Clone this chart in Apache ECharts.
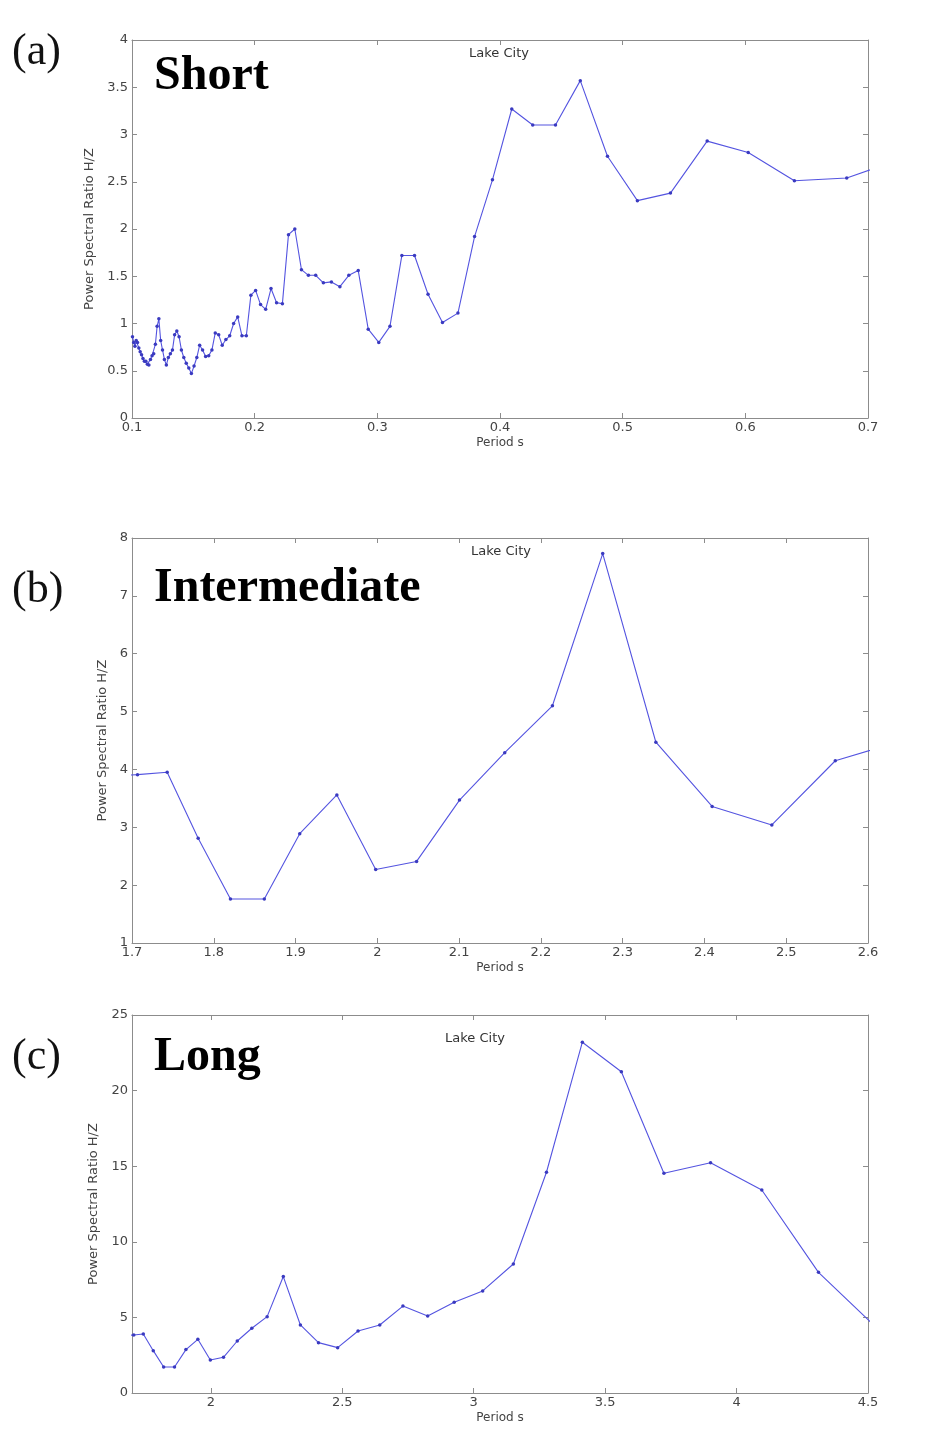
<!DOCTYPE html>
<html>
<head>
<meta charset="utf-8">
<script src="https://cdn.jsdelivr.net/npm/echarts@6/dist/echarts.min.js"></script>
<style>
  html, body { margin: 0; padding: 0; background: #ffffff; }
  #chart { width: 943px; height: 1433px; }
</style>
</head>
<body>
<div id="chart"></div>
<script>
// ---------- DATA ----------
// Panel (a) Short: period (s) and H/Z power spectral ratio
const periodsA = [0.10039,0.10139,0.10240,0.10343,0.10449,0.10557,0.10667,0.10779,0.10894,0.11011,
  0.11130,0.11253,0.11378,0.11506,0.11636,0.11770,0.11907,0.12047,0.12190,0.12337,
  0.12488,0.12642,0.12800,0.12962,0.13128,0.13299,0.13474,0.13653,0.13838,0.14027,
  0.14222,0.14423,0.14629,0.14841,0.15059,0.15284,0.15515,0.15754,0.16000,0.16254,
  0.16516,0.16787,0.17067,0.17356,0.17655,0.17965,0.18286,0.18618,0.18963,0.19321,
  0.19692,0.20078,0.20480,0.20898,0.21333,0.21787,0.22261,0.22756,0.23273,0.23814,
  0.24381,0.24976,0.25600,0.26256,0.26947,0.27676,0.28444,0.29257,0.30118,0.31030,
  0.32000,0.33032,0.34133,0.35310,0.36571,0.37926,0.39385,0.40960,0.42667,0.44522,
  0.46545,0.48762,0.51200,0.53895,0.56889,0.60235,0.64000,0.68267,0.73143];
const valuesA = [0.86,0.80,0.76,0.82,0.80,0.74,0.70,0.67,0.63,0.60,
  0.60,0.57,0.56,0.62,0.66,0.68,0.78,0.97,1.05,0.82,
  0.72,0.62,0.56,0.64,0.68,0.72,0.88,0.92,0.86,0.72,
  0.64,0.58,0.53,0.47,0.55,0.64,0.77,0.72,0.65,0.66,
  0.72,0.90,0.88,0.77,0.83,0.87,1.00,1.07,0.87,0.87,
  1.30,1.35,1.20,1.15,1.37,1.22,1.21,1.94,2.00,1.57,
  1.51,1.51,1.43,1.44,1.39,1.51,1.56,0.94,0.80,0.97,
  1.72,1.72,1.31,1.01,1.11,1.92,2.52,3.27,3.10,3.10,
  3.57,2.77,2.30,2.38,2.93,2.81,2.51,2.54,2.76];

// Panel (b) Intermediate
const periodsB = [1.6718,1.7067,1.7430,1.7809,1.8204,1.8618,1.9051,1.9505,1.9980,2.0480,
  2.1005,2.1558,2.2141,2.2756,2.3406,2.4094,2.4824,2.5600,2.6426];
const valuesB = [3.88,3.91,3.95,2.81,1.76,1.76,2.89,3.56,2.27,2.41,
  3.47,4.29,5.10,7.73,4.47,3.36,3.04,4.15,4.50];

// Panel (c) Long
const periodsC = [1.6718,1.7067,1.7430,1.7809,1.8204,1.8618,1.9051,1.9505,1.9980,2.0480,
  2.1005,2.1558,2.2141,2.2756,2.3406,2.4094,2.4824,2.5600,2.6426,2.7307,
  2.8248,2.9257,3.0341,3.1508,3.2768,3.4133,3.5617,3.7236,3.9010,4.0960,
  4.3116,4.5511];
const valuesC = [3.80,3.84,3.90,2.80,1.72,1.72,2.87,3.55,2.18,2.36,
  3.44,4.28,5.05,7.70,4.50,3.33,3.00,4.10,4.50,5.75,
  5.10,6.00,6.75,8.53,14.60,23.20,21.25,14.53,15.23,13.43,
  7.98,4.00];

// Tick values
const xTicksA = [0.1,0.2,0.3,0.4,0.5,0.6,0.7];
const yTicksA = [0,0.5,1,1.5,2,2.5,3,3.5,4];
const xTicksB = [1.7,1.8,1.9,2,2.1,2.2,2.3,2.4,2.5,2.6];
const yTicksB = [1,2,3,4,5,6,7,8];
const xTicksC = [2,2.5,3,3.5,4,4.5];
const yTicksC = [0,5,10,15,20,25];

const stationTitle = 'Lake City';
const xName = 'Period s';
const yName = 'Power Spectral Ratio H/Z';
const panelTags = ['(a)','(b)','(c)'];
const panelNames = ['Short','Intermediate','Long'];

// ---------- CHART ----------
const AX = '#8c8c8c';
const LBL = '#444';
const LINE = '#5454e0';
const FONT = 'DejaVu Sans';

const grids = [
  {left:132, top:40,   width:736, height:378},
  {left:132, top:538,  width:736, height:405},
  {left:132, top:1015, width:736, height:378}
];
const panels = [
  {px: periodsA, py: valuesA, xmin:0.1, xmax:0.7, ymin:0, ymax:4, xt:xTicksA, yt:yTicksA, yGap:33},
  {px: periodsB, py: valuesB, xmin:1.7, xmax:2.6, ymin:1, ymax:8, xt:xTicksB, yt:yTicksB, yGap:20},
  {px: periodsC, py: valuesC, xmin:1.7, xmax:4.5, ymin:0, ymax:25, xt:xTicksC, yt:yTicksC, yGap:27}
];

const xAxes = [], yAxes = [], series = [];
panels.forEach((p, i) => {
  const common = {
    type: 'value', gridIndex: i, min: p.xmin, max: p.xmax,
    axisLine: {show: true, onZero: false, lineStyle: {color: AX, width: 1}},
    axisTick: {show: true, inside: true, length: 5, customValues: p.xt, lineStyle: {color: AX}},
    splitLine: {show: false}
  };
  xAxes.push(Object.assign({}, common, {
    position: 'bottom',
    axisLabel: {show: true, customValues: p.xt, color: LBL, fontSize: 13, fontFamily: FONT, margin: 3},
    name: xName, nameLocation: 'middle', nameGap: 19,
    nameTextStyle: {color: LBL, fontSize: 12, fontFamily: FONT}
  }));
  xAxes.push(Object.assign({}, common, {position: 'top', axisLabel: {show: false}}));
  const ycommon = {
    type: 'value', gridIndex: i, min: p.ymin, max: p.ymax,
    axisLine: {show: true, onZero: false, lineStyle: {color: AX, width: 1}},
    axisTick: {show: true, inside: true, length: 5, customValues: p.yt, lineStyle: {color: AX}},
    splitLine: {show: false}
  };
  yAxes.push(Object.assign({}, ycommon, {
    position: 'left',
    axisLabel: {show: true, customValues: p.yt, color: LBL, fontSize: 13, fontFamily: FONT, margin: 4},
    name: yName, nameLocation: 'middle', nameGap: p.yGap,
    nameTextStyle: {color: LBL, fontSize: 13, fontFamily: FONT}
  }));
  yAxes.push(Object.assign({}, ycommon, {position: 'right', axisLabel: {show: false}}));
  series.push({
    type: 'line', xAxisIndex: i * 2, yAxisIndex: i * 2,
    data: p.px.map((x, j) => [x, p.py[j]]),
    clip: true, smooth: false,
    symbol: 'circle', symbolSize: 3.5, showSymbol: true,
    lineStyle: {color: LINE, width: 1.1},
    itemStyle: {color: '#3a3ac0'},
    animation: false
  });
});

const graphic = [];
const titlePos = [[499, 54], [501, 552], [475, 1039]];
const tagY = [52, 590, 1057];
const nameY = [77, 589, 1058];
for (let i = 0; i < 3; i++) {
  graphic.push({type: 'text', x: titlePos[i][0], y: titlePos[i][1],
    style: {text: stationTitle, fill: '#333', font: '13px "DejaVu Sans"', align: 'center', verticalAlign: 'middle'}});
  graphic.push({type: 'text', x: 12, y: tagY[i],
    style: {text: panelTags[i], fill: '#111', font: '44px "Liberation Serif"', align: 'left', verticalAlign: 'middle'}});
  graphic.push({type: 'text', x: 154, y: nameY[i],
    style: {text: panelNames[i], fill: '#000', font: 'bold 48px "Liberation Serif"', align: 'left', verticalAlign: 'middle'}});
}

const chart = echarts.init(document.getElementById('chart'), null, {renderer: 'canvas'});
chart.setOption({
  backgroundColor: '#ffffff',
  animation: false,
  grid: grids,
  xAxis: xAxes,
  yAxis: yAxes,
  series: series,
  graphic: graphic
});
</script>
</body>
</html>
